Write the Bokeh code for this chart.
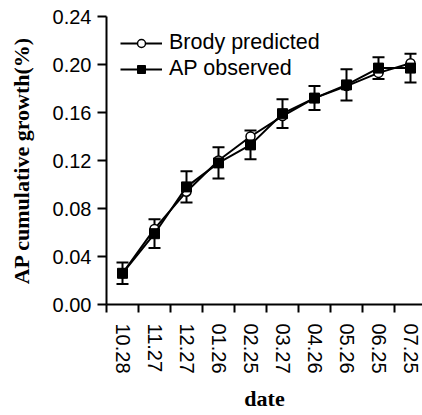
from bokeh.plotting import figure
from bokeh.models import ColumnDataSource, Whisker, TeeHead, FixedTicker, Range1d, Legend, LegendItem
from bokeh.embed import file_html
from bokeh.resources import INLINE

dates = ["10.28", "11.27", "12.27", "01.26", "02.25", "03.27", "04.26", "05.26", "06.25", "07.25"]
predicted = [0.026, 0.063, 0.094, 0.120, 0.140, 0.157, 0.172, 0.182, 0.193, 0.201]
observed = [0.026, 0.059, 0.098, 0.118, 0.133, 0.159, 0.172, 0.183, 0.197, 0.197]
obs_err = [0.009, 0.012, 0.013, 0.013, 0.012, 0.012, 0.010, 0.013, 0.009, 0.012]
y_ticks = [0.00, 0.04, 0.08, 0.12, 0.16, 0.20, 0.24]

xs = list(range(len(dates)))
src = ColumnDataSource(dict(
    x=xs, pred=predicted, obs=observed,
    upper=[o + e for o, e in zip(observed, obs_err)],
    lower=[o - e for o, e in zip(observed, obs_err)],
))

p = figure(width=422, height=415, output_backend="svg", toolbar_location=None,
           x_range=Range1d(-0.5, 9.375), y_range=Range1d(0, 0.24),
           min_border_left=106, min_border_top=16, min_border_right=0, min_border_bottom=111)
p.outline_line_color = None
p.xgrid.visible = False
p.ygrid.visible = False

lp = p.line("x", "pred", source=src, line_color="black", line_width=2)
sp = p.scatter("x", "pred", source=src, marker="circle", size=9, fill_color="white",
               line_color="black", line_width=1.5)
lo = p.line("x", "obs", source=src, line_color="black", line_width=2)
so = p.scatter("x", "obs", source=src, marker="square", size=10, fill_color="black",
               line_color="black")

w = Whisker(source=src, base="x", upper="upper", lower="lower", line_color="black", line_width=2,
            upper_head=TeeHead(size=12, line_width=2, line_color="black"),
            lower_head=TeeHead(size=12, line_width=2, line_color="black"))
p.add_layout(w)

legend = Legend(items=[LegendItem(label="Brody predicted", renderers=[lp, sp]),
                       LegendItem(label="AP observed", renderers=[lo, so])],
                location="top_left", margin=14, padding=3, spacing=1,
                glyph_width=42, glyph_height=20, label_height=20, label_standoff=7,
                label_text_font="Liberation Sans", label_text_font_size="21.5px",
                label_text_color="black",
                border_line_color=None, background_fill_alpha=0)
p.add_layout(legend)

# x axis
xa = p.xaxis[0]
xa.ticker = FixedTicker(ticks=xs, minor_ticks=[i - 0.5 for i in xs])
xa.major_label_overrides = {i: d for i, d in enumerate(dates)}
xa.major_label_orientation = "vertical"
xa.major_tick_line_color = None
xa.major_tick_out = 8
xa.major_tick_in = 0
xa.minor_tick_out = 8
xa.minor_tick_in = 0
xa.minor_tick_line_width = 2
xa.minor_tick_line_color = "black"
xa.axis_line_width = 2
xa.major_label_standoff = 11
xa.major_label_text_font = "Liberation Sans"
xa.major_label_text_font_size = "20px"
xa.major_label_text_color = "black"
xa.axis_label = "date"
xa.axis_label_text_font = "Liberation Serif"
xa.axis_label_text_font_style = "bold"
xa.axis_label_text_font_size = "22px"
xa.axis_label_text_color = "black"
xa.axis_label_standoff = 9

# y axis
ya = p.yaxis[0]
ya.ticker = FixedTicker(ticks=y_ticks)
ya.major_label_overrides = {t: f"{t:.2f}" for t in y_ticks}
ya.major_tick_out = 9
ya.major_tick_in = 0
ya.major_tick_line_width = 2
ya.minor_tick_line_color = None
ya.axis_line_width = 2
ya.major_label_standoff = 6
ya.major_label_text_font = "Liberation Sans"
ya.major_label_text_font_size = "20px"
ya.major_label_text_color = "black"
ya.axis_label = "AP cumulative growth(%)"
ya.axis_label_text_font = "Liberation Serif"
ya.axis_label_text_font_style = "bold"
ya.axis_label_text_font_size = "22px"
ya.axis_label_text_color = "black"
ya.axis_label_standoff = 16

open("out.html", "w").write(file_html(p, INLINE))
